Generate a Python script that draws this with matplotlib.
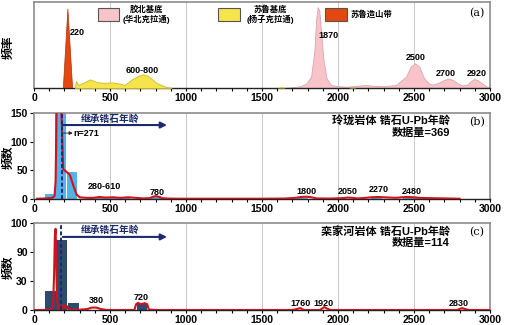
import numpy as np
import matplotlib
matplotlib.use("Agg")
import matplotlib.pyplot as plt
from matplotlib.patches import Rectangle

plt.rcParams["font.family"] = ["Liberation Sans", "Noto Sans CJK SC"]
plt.rcParams["font.weight"] = "bold"

# ----------------------------------------------------------
# Data
# ----------------------------------------------------------
# (a) reference age spectra (relative frequency, 0-100)
ncc_age = [1580, 1650, 1700, 1750, 1790, 1823, 1845, 1856, 1866, 1877, 1889, 1904, 1925, 1954,
           2000, 2060, 2120, 2184, 2240, 2300, 2381, 2447, 2479, 2506, 2534, 2567, 2600, 2625,
           2660, 2700, 2726, 2760, 2790, 2820, 2850, 2875, 2895, 2920, 2950, 2980, 3000]
ncc_freq = [0, 0.3, 0.8, 2, 5, 13, 44, 79, 94, 90, 64, 33, 11, 3.5,
            2, 1.5, 2.5, 3.5, 2.5, 2, 3.5, 13, 25, 28.7, 25, 11, 5, 4,
            6, 9.5, 11, 9, 5, 3, 4, 8, 10.5, 9, 5, 1.5, 0]

yz_age = [269, 276, 291, 324, 368, 411, 455, 521, 565, 597, 641, 685, 718, 751, 805, 871, 904]
yz_freq = [0, 8, 3.5, 6, 10, 7, 6, 6.5, 5, 3.5, 9.7, 14, 16, 14, 6, 1, 0]
yz_dot_age = [[1600, 1626, 1652], [2070, 2094, 2118]]
yz_dot_freq = [[0, 2, 0], [0, 1.5, 0]]

sulu_age = [193, 223, 254]
sulu_freq = [0, 92, 0]

# (b) Linglong granite
b_bin_left = [72, 140, 214, 350, 420, 490, 560, 770, 1730, 2220, 2430, 2500]
b_bin_count = [9, 271, 47, 1.5, 1.5, 1.5, 1.5, 3, 2, 3, 3, 2]
b_bin_width = 70
b_kde_age = [20, 60, 100, 120, 135, 142, 147, 150, 160, 172, 182, 186, 192, 215, 236, 258,
             280, 300, 320, 350, 390, 430, 470, 520, 570, 620, 670, 720, 760, 785, 800,
             820, 845, 880, 950, 1100, 1300, 1500, 1650, 1720, 1760, 1795, 1825, 1860,
             1950, 2030, 2065, 2095, 2130, 2180, 2220, 2265, 2300, 2340, 2380, 2420,
             2460, 2495, 2540, 2600, 2700, 2800]
b_kde_count = [0.5, 0.8, 1.5, 2, 5, 30, 120, 200, 220, 200, 138, 103, 52, 47, 42, 24,
               8, 3, 2.5, 2, 2, 3.5, 2.5, 3, 2, 3, 2, 1, 1.5, 4, 5,
               4, 1.5, 0.8, 0.5, 0.5, 0.5, 0.5, 0.8, 2, 3.5, 4, 3, 1,
               0.8, 1.5, 2.5, 2, 1, 2, 3, 3.5, 3, 2.5, 2, 3,
               3.5, 3, 2, 1.5, 1, 0.5]
b_peaks = ["280-610", "780", "1800", "2050", "2270", "2480"]
b_peak_age = [466, 812, 1792, 2061, 2265, 2488]

# (c) Luanjiahe granite
c_bin_left = [72, 146, 222, 678]
c_bin_count = [20, 94, 7, 6]
c_bin_width = [73, 74, 73, 66]
c_kde_age = [0, 100, 115, 125, 132, 137, 142, 147, 152, 160, 170, 178, 185, 192, 200, 208,
             216, 225, 240, 300, 350, 380, 410, 440, 480, 660, 672, 685, 700, 715, 730,
             745, 755, 800, 1700, 1730, 1752, 1775, 1880, 1895, 1910, 1928, 1950, 2780,
             2800, 2816, 2835, 2860, 3000]
c_kde_count = [0, 0, 1, 5, 40, 95, 98, 60, 10, 1, 2, 4, 1.5, 4, 5, 2,
               4, 1, 0.3, 0.3, 1, 2.5, 2.5, 1, 0, 0, 6, 7.5, 6, 6.5, 7,
               6, 0.5, 0, 0, 1, 2, 0, 0, 1.5, 3, 1.5, 0, 0,
               1, 2, 1, 0, 0]
c_peaks = ["380", "720", "1760", "1920", "2830"]
c_peak_age = [407, 702, 1753, 1904, 2797]

c_yticks = [0, 30, 90, 100]
inherit_age = 182
b_n = 369
c_n = 114

# ----------------------------------------------------------
# Styles
# ----------------------------------------------------------
navy = "#1b2a6b"
red = "#d0121b"
frame = "#8c8c8c"

fig = plt.figure(figsize=(5.05, 3.25), dpi=100)
L, W = 34 / 505, 456 / 505
ax_a = fig.add_axes([L, 1 - 88 / 325, W, 86 / 325])
ax_b = fig.add_axes([L, 1 - 199 / 325, W, 86 / 325])
ax_c = fig.add_axes([L, 1 - 310 / 325, W, 87 / 325])


def style_axis(ax):
    ax.set_xlim(0, 3000)
    ax.set_xticks(np.arange(0, 3001, 500))
    ax.set_xticks(np.arange(0, 3001, 100), minor=True)
    ax.tick_params(axis="x", which="both", direction="out", length=2.5, width=0.8,
                   labelsize=7.5, pad=0.8)
    for s in ["top", "right", "left"]:
        ax.spines[s].set_color(frame)
        ax.spines[s].set_linewidth(1.2)
    ax.spines["bottom"].set_color("#222222")
    ax.spines["bottom"].set_linewidth(1.0)
    for g in range(500, 3000, 500):
        ax.axvline(g, color="#c8c8c8", lw=0.7, zorder=0)
    for lbl in ax.get_xticklabels():
        lbl.set_fontweight("bold")


# ---------------- (a) ----------------
ax = ax_a
style_axis(ax)
ax.set_ylim(0, 100)
ax.set_yticks([])
ax.fill_between(ncc_age, ncc_freq, color="#f9c4c9", edgecolor="#d9a5aa", lw=0.6, zorder=2)
ax.fill_between(yz_age, yz_freq, color="#f6e54a", edgecolor="#c9b92c", lw=0.6, zorder=3)
for xa, ya in zip(yz_dot_age, yz_dot_freq):
    ax.fill_between(xa, ya, color="#c9c230", lw=0, zorder=3)
ax.fill(sulu_age, sulu_freq, color="#e2480f", edgecolor="#b03008", lw=0.5, zorder=4)

xt = ax.get_xaxis_transform()
ax.text(236, 0.64, "220", transform=xt, fontsize=6.5, ha="left", va="center")
ax.text(709, 0.20, "600-800", transform=xt, fontsize=6.5, ha="center", va="center")
ax.text(1937, 0.605, "1870", transform=xt, fontsize=6.5, ha="center", va="center")
ax.text(2514, 0.36, "2500", transform=xt, fontsize=6.5, ha="center", va="center")
ax.text(2711, 0.174, "2700", transform=xt, fontsize=6.5, ha="center", va="center")
ax.text(2915, 0.174, "2920", transform=xt, fontsize=6.5, ha="center", va="center")

# legend boxes
legend_items = [
    ((0.140, 0.779), 0.046, "#f9c4c9", "胶北基底\n(华北克拉通)", 0.246, "center"),
    ((0.403, 0.779), 0.049, "#f6e54a", "苏鲁基底\n(杨子克拉通)", 0.518, "center"),
    ((0.638, 0.779), 0.048, "#e2480f", "苏鲁造山带", 0.694, "left"),
]
for (x0, y0), w, col, txt, tx, ha in legend_items:
    ax.add_patch(Rectangle((x0, y0), w, 0.151, transform=ax.transAxes,
                           facecolor=col, edgecolor="#555555", lw=0.8, zorder=5))
    ax.text(tx, 0.855, txt, transform=ax.transAxes, fontsize=6, ha=ha,
            va="center", linespacing=1.05, zorder=5)
ax.text(0.971, 0.87, "(a)", transform=ax.transAxes, fontsize=8,
        family="DejaVu Serif", fontweight="normal", ha="center", va="center")

# ---------------- (b) ----------------
ax = ax_b
style_axis(ax)
ax.set_ylim(0, 150)
ax.set_yticks([0, 50, 100, 150])
ax.tick_params(axis="y", direction="out", length=3, width=0.8, labelsize=7.5, pad=1.5)
ax.bar(b_bin_left, b_bin_count, width=b_bin_width, align="edge",
       color="#52b3ea", edgecolor="none", zorder=2)
ax.plot(b_kde_age, b_kde_count, color=red, lw=1.5, zorder=4)
ax.axvline(inherit_age, color=navy, lw=1.4, ls=(0, (2, 1.2)), zorder=5)
ax.annotate("", xy=(875, 129), xytext=(inherit_age + 8, 129),
            arrowprops=dict(arrowstyle="-|>", color=navy, lw=1.5,
                            mutation_scale=9, shrinkA=0, shrinkB=0), zorder=6)
ax.text(499, 140, "继承锆石年龄", color=navy, fontsize=7, ha="center", va="center")
ax.annotate("", xy=(255, 115), xytext=(inherit_age + 6, 115),
            arrowprops=dict(arrowstyle="-|>", color="#222222", lw=0.6,
                            mutation_scale=5, shrinkA=0, shrinkB=0), zorder=6)
ax.text(262, 115, "n=271", fontsize=6.5, ha="left", va="center")
xt = ax.get_xaxis_transform()
b_peak_y = [0.14, 0.08, 0.093, 0.093, 0.105, 0.093]
for txt, age, yf in zip(b_peaks, b_peak_age, b_peak_y):
    ax.text(age, yf, txt, transform=xt, fontsize=6.5, ha="center", va="center")
ax.text(0.912, 0.905, "玲珑岩体 锆石U-Pb年龄", transform=ax.transAxes,
        fontsize=8, ha="right", va="center")
ax.text(0.912, 0.767, f"数据量={b_n}", transform=ax.transAxes,
        fontsize=8, ha="right", va="center")
ax.text(0.971, 0.895, "(b)", transform=ax.transAxes, fontsize=8,
        family="DejaVu Serif", fontweight="normal", ha="center", va="center")

# ---------------- (c) ----------------
ax = ax_c
style_axis(ax)
pos = np.arange(len(c_yticks))


def fwd(y):
    return np.interp(y, c_yticks, pos)


def inv(p):
    return np.interp(p, pos, c_yticks)


ax.set_yscale("function", functions=(fwd, inv))
ax.set_ylim(0, 100)
ax.set_yticks(c_yticks)
ax.set_yticklabels([str(v) for v in c_yticks])
ax.yaxis.set_minor_locator(matplotlib.ticker.NullLocator())
ax.tick_params(axis="y", direction="out", length=3, width=0.8, labelsize=7.5, pad=1.5)
ax.bar(c_bin_left, c_bin_count, width=c_bin_width, align="edge",
       color="#2e4a6f", edgecolor="none", zorder=2)
ax.plot(c_kde_age, c_kde_count, color=red, lw=1.5, zorder=4)
ax.axvline(inherit_age - 4, color=navy, lw=1.4, ls=(0, (2, 1.2)), zorder=5)
ax.annotate("", xy=(875, 95.2), xytext=(inherit_age + 8, 95.2),
            arrowprops=dict(arrowstyle="-|>", color=navy, lw=1.5,
                            mutation_scale=9, shrinkA=0, shrinkB=0), zorder=6)
ax.text(499, 97.6, "继承锆石年龄", color=navy, fontsize=7, ha="center", va="center")
xt = ax.get_xaxis_transform()
c_peak_y = [0.107, 0.141, 0.069, 0.069, 0.08]
for txt, age, yf in zip(c_peaks, c_peak_age, c_peak_y):
    ax.text(age, yf, txt, transform=xt, fontsize=6.5, ha="center", va="center")
ax.text(0.912, 0.897, "栾家河岩体 锆石U-Pb年龄", transform=ax.transAxes,
        fontsize=8, ha="right", va="center")
ax.text(0.912, 0.77, f"数据量={c_n}", transform=ax.transAxes,
        fontsize=8, ha="right", va="center")
ax.text(0.971, 0.895, "(c)", transform=ax.transAxes, fontsize=8,
        family="DejaVu Serif", fontweight="normal", ha="center", va="center")

for a in (ax_b, ax_c):
    for lbl in a.get_yticklabels():
        lbl.set_fontweight("bold")

# y labels
fig.text(0.018, 1 - 47 / 325, "频率", rotation=90, fontsize=8.5, ha="center", va="center")
fig.text(0.018, 1 - 157 / 325, "频数", rotation=90, fontsize=8.5, ha="center", va="center")
fig.text(0.018, 1 - 267 / 325, "频数", rotation=90, fontsize=8.5, ha="center", va="center")

fig.savefig("out.png", dpi=100)
